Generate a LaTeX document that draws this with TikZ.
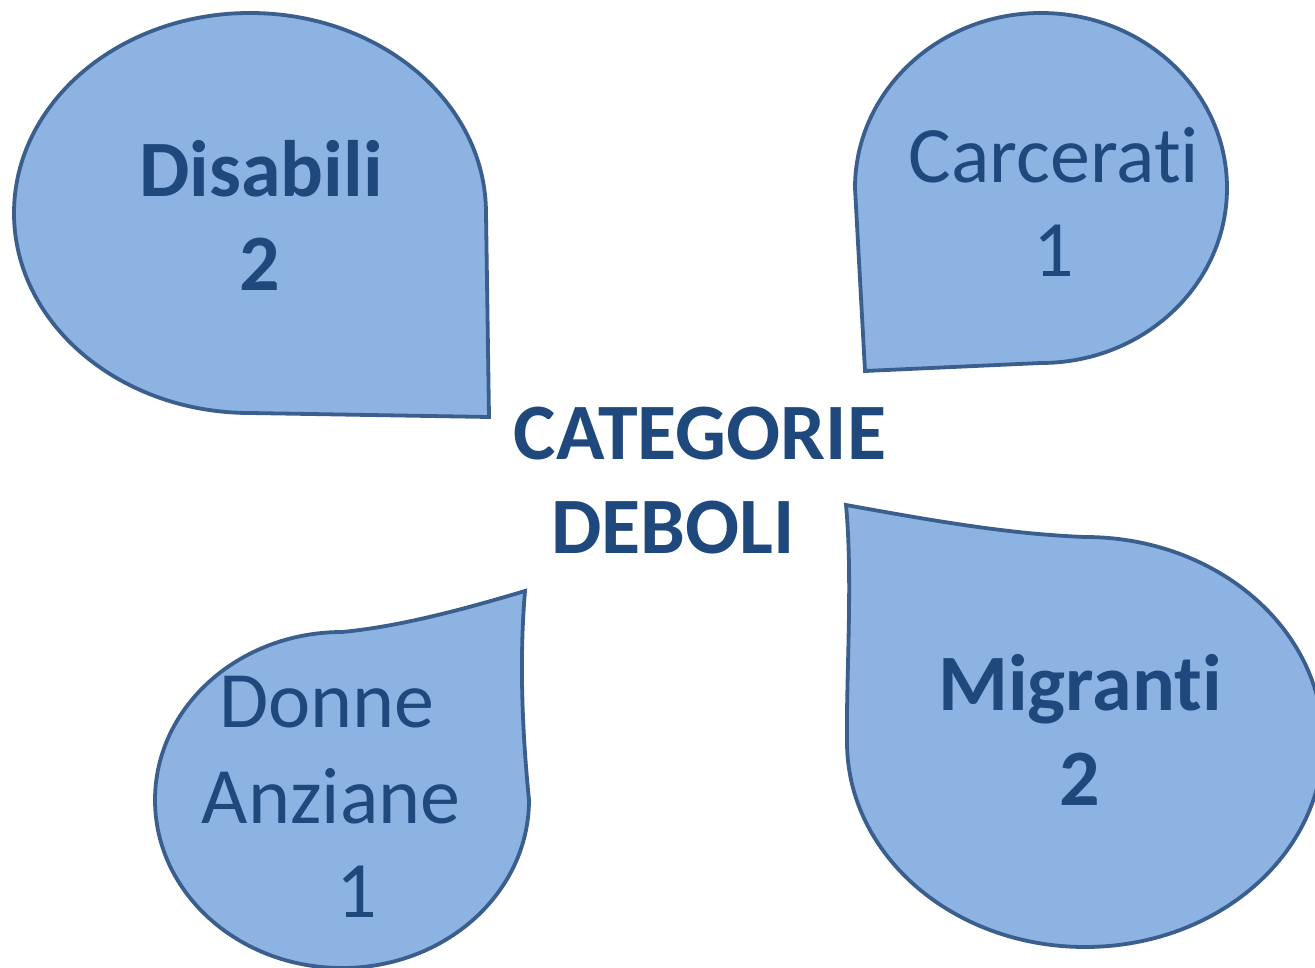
\documentclass[tikz,border=0pt]{standalone}
\usepackage{fontspec}
\setmainfont{Carlito}[Ligatures={NoCommon}]
\definecolor{dropfill}{HTML}{8DB3E2}
\definecolor{dropline}{HTML}{3A5E8D}
\definecolor{txt}{HTML}{1F497D}
\begin{document}
\begin{tikzpicture}[x=1pt,y=-1pt,
  drop/.style={fill=dropfill,draw=dropline,line width=3.8pt,line join=miter},
  lbl/.style={text=txt,inner sep=0pt,anchor=base,font=\fontsize{80}{94}\selectfont},
  lblb/.style={lbl,font=\fontsize{80}{94}\selectfont\bfseries}]
\useasboundingbox (0,0) rectangle (1315,968);
\clip (0,0) rectangle (1315,968);
% Disabili
\draw[drop] (489,417) -- (486,213) arc[start angle=0,end angle=270,x radius=236pt,y radius=200pt] -- cycle;
% Carcerati
\draw[drop] (865,371) -- (855,188) arc[start angle=180,end angle=-90,x radius=186pt,y radius=175pt] -- cycle;
% Migranti
\draw[drop] (846,505) .. controls (940,522) and (1010,534) .. (1085,537)
  arc[start angle=90,end angle=-180,x radius=238pt,y radius=205pt]
  .. controls (846,680) and (853,580) .. cycle;
% Donne Anziane
\draw[drop] (525,591) .. controls (455,612) and (395,627) .. (342,632)
  arc[start angle=90,end angle=360,x radius=187pt,y radius=168pt]
  .. controls (521,720) and (520,650) .. cycle;
% texts
\node[lblb] (dis) at (261,197) {Disabili};
\node[lblb] (disn) at (260,291) {2};
\node[lbl] (car) at (1054,183) {Carcerati};
\node[lbl] (carn) at (1054,277) {1};
\node[lblb] (cat1) at (700,459) {CATEGORIE};
\node[lblb] (cat2) at (673,553) {DEBOLI};
\node[lblb] (mig) at (1080,710) {Migranti};
\node[lblb] (mign) at (1080,805) {2};
\node[lbl] (don1) at (327,727) {Donne};
\node[lbl] (don2) at (331,823) {Anziane};
\node[lbl] (donn) at (357,917) {1};
\end{tikzpicture}
\end{document}
